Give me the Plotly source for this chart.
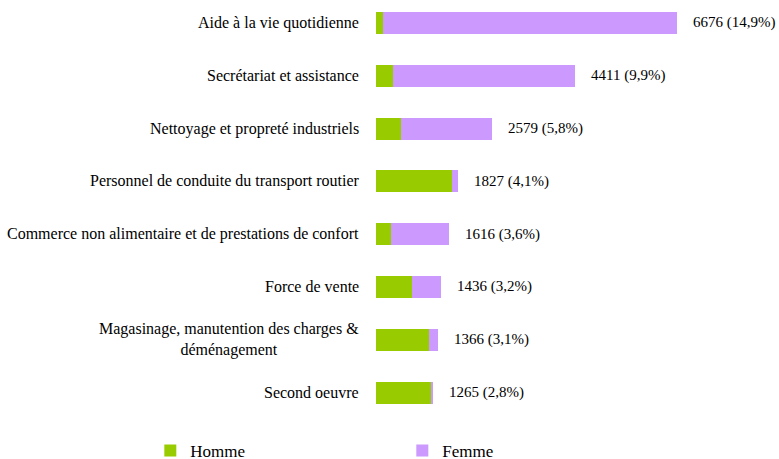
import plotly.graph_objects as go

# Categories, top to bottom
categories = [
    "Aide à la vie quotidienne",
    "Secrétariat et assistance",
    "Nettoyage et propreté industriels",
    "Personnel de conduite du transport routier",
    "Commerce non alimentaire et de prestations de confort",
    "Force de vente",
    "Magasinage, manutention des charges &<br>déménagement",
    "Second oeuvre",
]
homme = [155, 375, 550, 1680, 330, 805, 1170, 1220]
femme = [6521, 4036, 2029, 147, 1286, 631, 196, 45]
totals = [6676, 4411, 2579, 1827, 1616, 1436, 1366, 1265]
percents = ["14,9%", "9,9%", "5,8%", "4,1%", "3,6%", "3,2%", "3,1%", "2,8%"]

GREEN = "#99CC00"
PURPLE = "#CC99FF"
SERIF = "Liberation Serif, Times New Roman, serif"

idx = list(range(len(categories)))

fig = go.Figure()
fig.add_trace(go.Bar(
    y=idx, x=homme, name="Homme", orientation="h",
    marker=dict(color=GREEN, line=dict(width=0)),
))
fig.add_trace(go.Bar(
    y=idx, x=femme, name="Femme", orientation="h",
    marker=dict(color=PURPLE, line=dict(width=0)),
))

annotations = []
# category labels (centered multi-line like the original)
for i, cat in enumerate(categories):
    annotations.append(dict(
        x=0, y=i, xref="paper", yref="y", text=cat, showarrow=False,
        xanchor="right", yanchor="middle", align="center", xshift=-15,
        font=dict(family=SERIF, size=16, color="#000000"),
    ))
# value labels
for i, (t, p) in enumerate(zip(totals, percents)):
    annotations.append(dict(
        x=t, y=i, xref="x", yref="y", text=f"{t} ({p})", showarrow=False,
        xanchor="left", yanchor="middle", xshift=14,
        font=dict(family=SERIF, size=15, color="#000000"),
    ))

fig.update_layout(
    barmode="stack",
    bargap=0.585,
    width=779, height=459,
    margin=dict(l=376, r=0, t=0, b=40, autoexpand=False),
    paper_bgcolor="white",
    plot_bgcolor="white",
    font=dict(family=SERIF, color="#000000"),
    xaxis=dict(range=[0, 8940], visible=False, showgrid=False, zeroline=False),
    yaxis=dict(range=[7.5, -0.435], showticklabels=False, showgrid=False,
               zeroline=False, showline=False, ticks=""),
    annotations=annotations,
    legend=dict(
        orientation="h", traceorder="normal", x=-0.56, xanchor="left",
        y=-0.033, yanchor="top", entrywidth=207,
        font=dict(family=SERIF, size=17, color="#000000"),
        bgcolor="rgba(0,0,0,0)",
    ),
    showlegend=True,
)

fig.write_html("out.html", config={"displayModeBar": False},
               post_script="document.body.style.margin='0';")
